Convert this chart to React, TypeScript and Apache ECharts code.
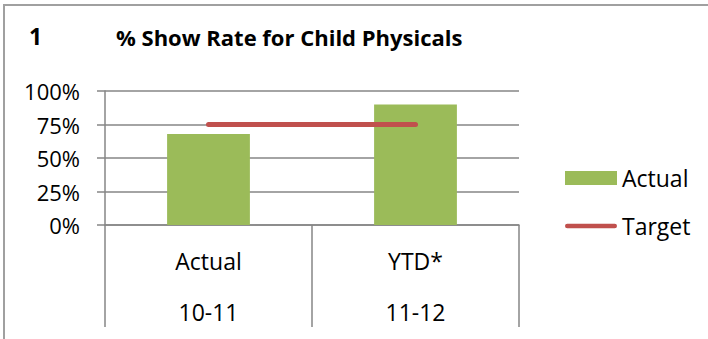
import React, { useEffect, useRef } from "react";
import * as echarts from "echarts";

const chartNumber = "1";
const chartTitle = "% Show Rate for Child Physicals";
const categoryTop = ["Actual", "YTD*"];
const categoryBottom = ["10-11", "11-12"];
const actualValues = [68, 90];
const targetValues = [75, 75];
const yTicks = [0, 25, 50, 75, 100];

const FONT = "Open Sans";
const AXIS_GRAY = "#868686";

export default function App() {
  const ref = useRef<HTMLDivElement>(null);
  useEffect(() => {
    document.body.style.margin = "0";
    if (!ref.current) return;
    const chart = echarts.init(ref.current, null, { renderer: "svg" });
    const categories = categoryTop.map((t, i) => `${t}\n${categoryBottom[i]}`);
    chart.setOption({
      animation: false,
      backgroundColor: "#fff",
      textStyle: { fontFamily: FONT },
      title: [
        {
          text: chartNumber,
          left: 24,
          top: 17,
          textStyle: { fontFamily: FONT, fontWeight: "bold", fontSize: 23, lineHeight: 28, color: "#000" },
        },
        {
          text: chartTitle,
          left: 111,
          top: 18,
          textStyle: { fontFamily: FONT, fontWeight: "bold", fontSize: 22, lineHeight: 28, color: "#000" },
        },
      ],
      graphic: [
        { type: "line", shape: { x1: 3, y1: 5, x2: 708, y2: 5 }, style: { stroke: "#a0a0a0", lineWidth: 2 } },
        { type: "line", shape: { x1: 4, y1: 5, x2: 4, y2: 339 }, style: { stroke: "#a0a0a0", lineWidth: 2 } },
      ],
      legend: {
        orient: "vertical",
        left: 560,
        top: 160,
        itemWidth: 52,
        itemHeight: 14,
        itemGap: 22,
        textStyle: { fontFamily: FONT, fontSize: 23, lineHeight: 26, color: "#000" },
        data: [
          { name: "Actual", icon: "rect" },
          {
            name: "Target",
            icon: "path://M2.5,0 L54.5,0 A2.5,2.5 0 0 1 54.5,5 L2.5,5 A2.5,2.5 0 0 1 2.5,0 Z",
            itemStyle: { color: "#C0504D" },
          },
        ],
      },
      grid: { left: 105, right: 189, top: 91, bottom: 114, containLabel: false },
      xAxis: {
        type: "category",
        data: categories,
        boundaryGap: true,
        axisLine: { show: true, lineStyle: { color: AXIS_GRAY, width: 1.5 } },
        axisTick: { show: true, length: 102, interval: 0, lineStyle: { color: AXIS_GRAY, width: 1.5 } },
        axisLabel: { interval: 0, margin: 10, lineHeight: 51, fontSize: 23, color: "#000", fontFamily: FONT },
        splitLine: { show: false },
      },
      yAxis: {
        type: "value",
        min: yTicks[0],
        max: yTicks[yTicks.length - 1],
        interval: yTicks[1] - yTicks[0],
        axisLine: { show: true, lineStyle: { color: AXIS_GRAY, width: 1.5 } },
        axisTick: { show: true, length: 8, lineStyle: { color: AXIS_GRAY, width: 1.5 } },
        axisLabel: { formatter: "{value}%", margin: 25, fontSize: 22, color: "#000", fontFamily: FONT },
        splitLine: { show: true, lineStyle: { color: AXIS_GRAY, width: 1.5 } },
      },
      series: [
        {
          name: "Actual",
          type: "bar",
          data: actualValues,
          barWidth: "40%",
          itemStyle: { color: "#9BBB59" },
        },
        {
          name: "Target",
          type: "line",
          data: targetValues,
          symbol: "none",
          showSymbol: false,
          lineStyle: { color: "#C0504D", width: 5, cap: "round" },
          itemStyle: { color: "#C0504D" },
        },
      ],
    });
    return () => chart.dispose();
  }, []);
  return <div ref={ref} style={{ width: 708, height: 339 }} />;
}
